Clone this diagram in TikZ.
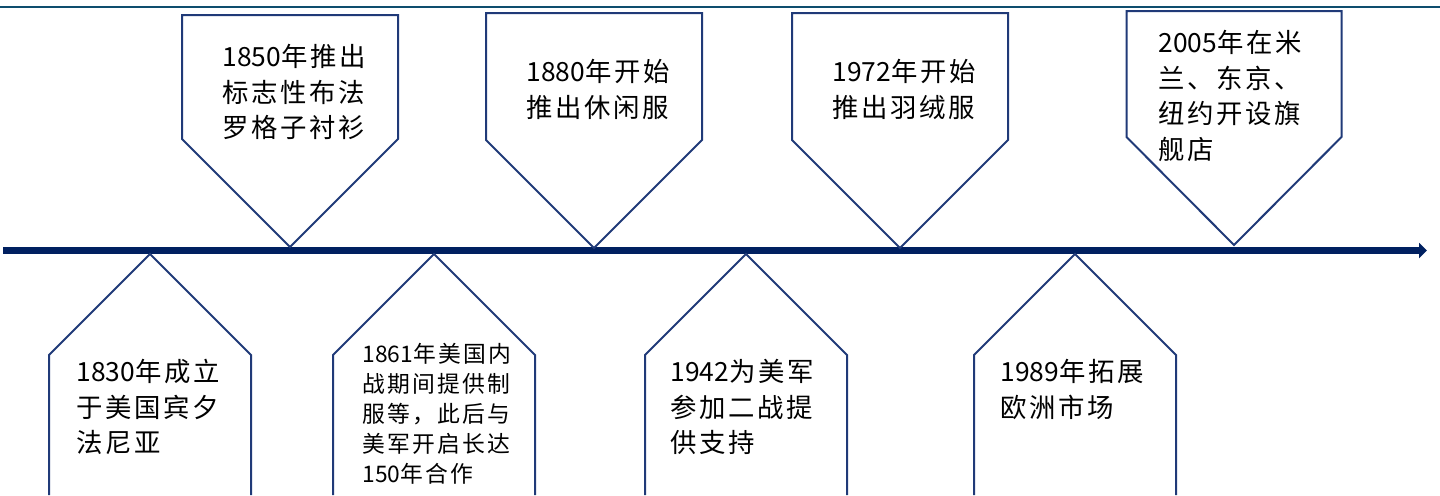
\documentclass[tikz,border=0pt]{standalone}
\usepackage{fontspec}
\newfontfamily\cjk{Noto Sans CJK SC}[LetterSpace=10]
\newfontfamily\cjkdigits{Noto Sans CJK SC}
\newcommand\yr[1]{{\cjkdigits #1}}
\usetikzlibrary{arrows.meta}
\definecolor{navy}{HTML}{002060}
\definecolor{boxline}{HTML}{203A78}
\definecolor{topline}{HTML}{0E4E6E}

\begin{document}
\begin{tikzpicture}[x=0.5pt,y=-0.5pt,
  callout/.style={draw=boxline, line width=1pt, line join=miter},
  label/.style={anchor=north west, inner sep=0pt, align=left, font=\cjk\fontsize{13.2}{17.75}\selectfont},
  smalllabel/.style={label, font=\cjk\fontsize{11.4}{15}\selectfont}]
\useasboundingbox (0,0) rectangle (1440,495);
\draw [topline, line width=1.25pt] (0,7) -- (1440,7);
\draw [navy, line width=3.5pt, -{Triangle[length=4pt,width=7.5pt]}] (3,250.5) -- (1427,250.5);
% events above the line
\coordinate (tip1850) at (290,247);
\coordinate (tip1880) at (594,248);
\coordinate (tip1972) at (900,248);
\coordinate (tip2005) at (1234,245);
\draw [callout] (tip1850) -- ++(-108,-108) -- ++(0,-124) -- ++(216,0) -- ++(0,124) -- cycle;
\draw [callout] (tip1880) -- ++(-108,-108) -- ++(0,-127) -- ++(216,0) -- ++(0,127) -- cycle;
\draw [callout] (tip1972) -- ++(-108,-108) -- ++(0,-127) -- ++(216,0) -- ++(0,127) -- cycle;
\draw [callout] (tip2005) -- ++(-107.5,-108) -- ++(0,-126) -- ++(215,0) -- ++(0,126) -- cycle;
\node [label] (ev1850) at (222,44) {\yr{1850}年推出\\标志性布法\\罗格子衬衫};
\node [label] (ev1880) at (526,59) {\yr{1880}年开始\\推出休闲服};
\node [label] (ev1972) at (832,59) {\yr{1972}年开始\\推出羽绒服};
\node [label] (ev2005) at (1158,30) {\yr{2005}年在米\\兰、东京、\\纽约开设旗\\舰店};
% events below the line
\coordinate (tip1830) at (150,254);
\coordinate (tip1861) at (434,254);
\coordinate (tip1942) at (746,254);
\coordinate (tip1989) at (1075,254);
\draw [callout] (tip1830) ++(-101,241) -- ++(0,-140) -- (tip1830) -- ++(101,101) -- ++(0,140);
\draw [callout] (tip1861) ++(-101,241) -- ++(0,-140) -- (tip1861) -- ++(101,101) -- ++(0,140);
\draw [callout] (tip1942) ++(-101,241) -- ++(0,-140) -- (tip1942) -- ++(101,101) -- ++(0,140);
\draw [callout] (tip1989) ++(-101,241) -- ++(0,-140) -- (tip1989) -- ++(101,101) -- ++(0,140);
\node [label] (ev1830) at (76,359) {\yr{1830}年成立\\于美国宾夕\\法尼亚};
\node [smalllabel] (ev1861) at (362,343) {\yr{1861}年美国内\\战期间提供制\\服等，此后与\\美军开启长达\\\yr{150}年合作};
\node [label] (ev1942) at (670,359) {\yr{1942}为美军\\参加二战提\\供支持};
\node [label] (ev1989) at (1000,359) {\yr{1989}年拓展\\欧洲市场};
\end{tikzpicture}
\end{document}
